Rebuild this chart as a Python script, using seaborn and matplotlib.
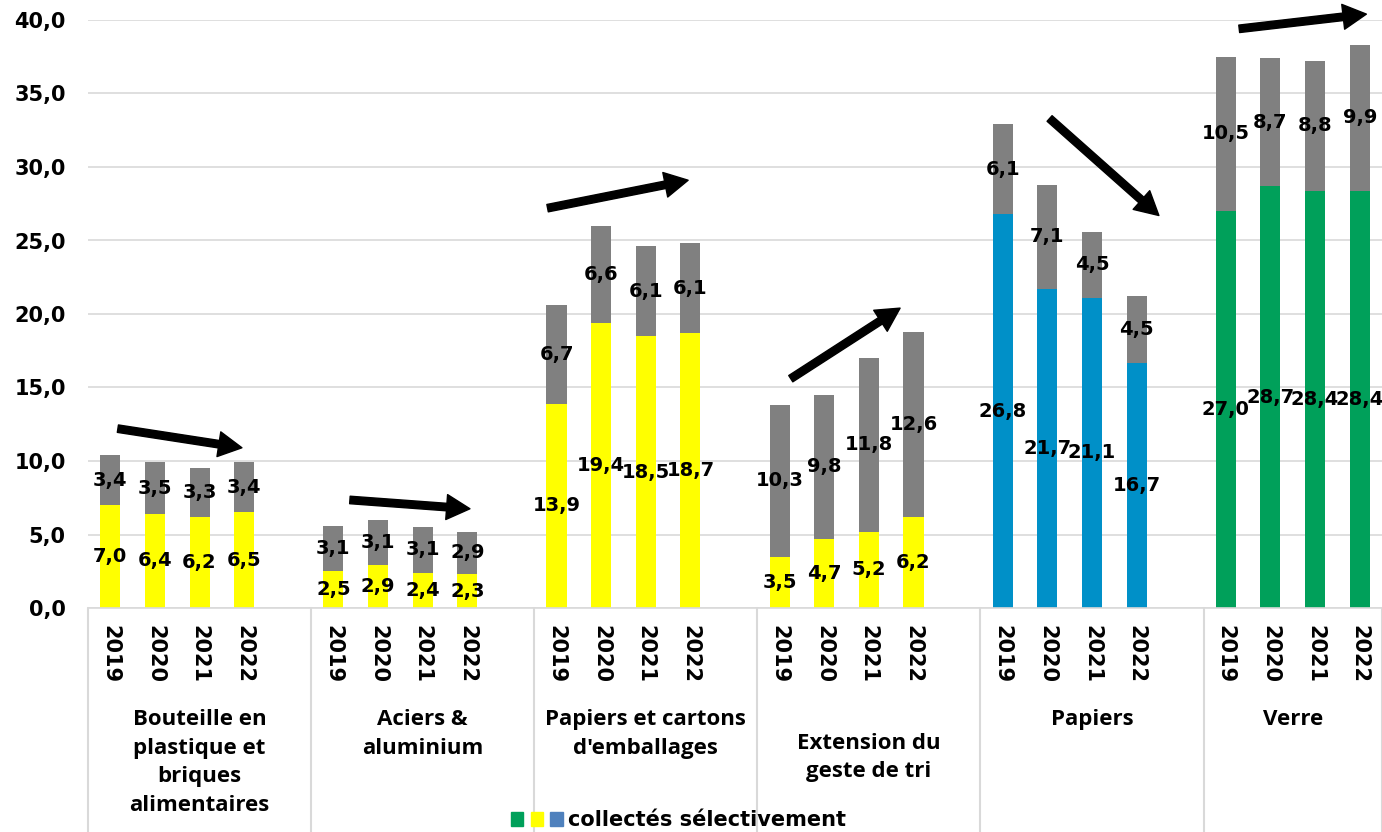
import pandas as pd
import matplotlib
matplotlib.use("Agg")
import matplotlib.pyplot as plt
import matplotlib.transforms as mtransforms
from matplotlib.patches import Patch
from matplotlib.legend_handler import HandlerTuple
import seaborn as sns

# donnees
groupes = ["Bouteille en\nplastique et\nbriques\nalimentaires", "Aciers &\naluminium",
           "Papiers et cartons\nd'emballages", "Extension du\ngeste de tri", "Papiers", "Verre"]
annees = ["2019", "2020", "2021", "2022"]
teintes = ["jaune", "jaune", "jaune", "jaune", "bleu", "vert"]

collecte_selective = [
    [7.0, 6.4, 6.2, 6.5],
    [2.5, 2.9, 2.4, 2.3],
    [13.9, 19.4, 18.5, 18.7],
    [3.5, 4.7, 5.2, 6.2],
    [26.8, 21.7, 21.1, 16.7],
    [27.0, 28.7, 28.4, 28.4],
]
autres = [
    [3.4, 3.5, 3.3, 3.4],
    [3.1, 3.1, 3.1, 2.9],
    [6.7, 6.6, 6.1, 6.1],
    [10.3, 9.8, 11.8, 12.6],
    [6.1, 7.1, 4.5, 4.5],
    [10.5, 8.7, 8.8, 9.9],
]

PALETTE = {"jaune": "#FFFF00", "bleu": "#0090C8", "vert": "#00A05A"}
GRIS = "#808080"
GRILLE = "#D9D9D9"
POLICE = ["DejaVu Sans"]

# fleches de tendance (debut -> pointe), en coordonnees des donnees
fleches = [((0.17, 12.2), (2.95, 10.9)),
           ((5.37, 7.35), (8.06, 6.75)),
           ((9.8, 27.2), (12.95, 29.1)),
           ((15.25, 15.6), (17.7, 20.4)),
           ((21.05, 33.3), (23.5, 26.7)),
           ((25.3, 39.4), (28.15, 40.4))]

# construction du tableau : 4 annees + une case vide par groupe (sauf le dernier)
ordre = []
lignes = []
for g, nom in enumerate(groupes):
    for a, an in enumerate(annees):
        cle = "{}|{}".format(g, an)
        ordre.append(cle)
        lignes.append({"slot": cle, "base": collecte_selective[g][a],
                       "autre": autres[g][a],
                       "total": collecte_selective[g][a] + autres[g][a],
                       "teinte": teintes[g]})
    if g < len(groupes) - 1:
        ordre.append("{}|".format(g))
df = pd.DataFrame(lignes)

sns.set_style("white")
plt.rcParams["font.family"] = POLICE
plt.rcParams["text.color"] = "black"
plt.rcParams["xtick.color"] = "black"
plt.rcParams["ytick.color"] = "black"

fig = plt.figure(figsize=(13.82, 8.32), dpi=100)
ax = fig.add_axes([88 / 1382, 224 / 832, 1294 / 1382, 588 / 832])

sns.barplot(data=df, x="slot", y="total", order=ordre, color=GRIS, width=0.45,
            saturation=1, errorbar=None, linewidth=0, ax=ax)
sns.barplot(data=df, x="slot", y="base", hue="teinte", palette=PALETTE, order=ordre,
            width=0.45, dodge=False, saturation=1, errorbar=None, legend=False,
            linewidth=0, ax=ax)

def fmt(v):
    return "{:.1f}".format(v).replace(".", ",")

for _, r in df.iterrows():
    x = ordre.index(r["slot"])
    ax.text(x, r["base"] / 2, fmt(r["base"]), ha="center", va="center",
            fontsize=14, fontweight="bold", family=POLICE, color="black")
    ax.text(x, r["base"] + r["autre"] / 2, fmt(r["autre"]), ha="center", va="center",
            fontsize=14, fontweight="bold", family=POLICE, color="black")

ax.set_ylim(0, 40)
ax.set_xlim(-0.5, len(ordre) - 0.5)
ax.set_yticks(range(0, 41, 5))
ax.set_yticklabels([fmt(v) for v in range(0, 41, 5)], fontsize=15, fontweight="bold",
                   family=POLICE)
ax.yaxis.grid(True, color=GRILLE, linewidth=1.2)
ax.set_axisbelow(True)
ax.set_xticks(range(len(ordre)))
ax.set_xticklabels([c.split("|")[1] for c in ordre], rotation=-90,
                   fontsize=15, fontweight="bold", family=POLICE)
ax.tick_params(axis="both", length=0)
ax.tick_params(axis="y", pad=16)
ax.tick_params(axis="x", pad=12)
ax.set_xlabel("")
ax.set_ylabel("")
for s in ["top", "right", "left"]:
    ax.spines[s].set_visible(False)
ax.spines["bottom"].set_color(GRILLE)
ax.spines["bottom"].set_linewidth(1.2)

# separateurs et noms des groupes sous l'axe
trans = mtransforms.blended_transform_factory(ax.transData, ax.transAxes)
bornes = [-0.5] + [5 * g + 4.5 for g in range(len(groupes) - 1)] + [len(ordre) - 0.5]
for b in bornes:
    ax.plot([b, b], [0, -0.381], transform=trans, color=GRILLE, linewidth=1.5,
            clip_on=False)
for g, nom in enumerate(groupes):
    centre = (bornes[g] + bornes[g + 1]) / 2
    y = -0.212 if g == 3 else -0.172
    ax.text(centre, y, nom, transform=trans, ha="center", va="top", fontsize=16,
            fontweight="bold", family="Open Sans", linespacing=1.48)

for debut, fin in fleches:
    ax.annotate("", xy=fin, xytext=debut, annotation_clip=False,
                arrowprops=dict(arrowstyle="simple,head_length=1.4,head_width=1.5,tail_width=0.45",
                                color="black", mutation_scale=12, shrinkA=0, shrinkB=0))

poignees = (Patch(color=PALETTE["vert"]), Patch(color=PALETTE["jaune"]), Patch(color="#4F81BD"))
fig.legend([poignees], ["collectés sélectivement"], loc="center",
           bbox_to_anchor=(0.491, 0.014), frameon=False, handlelength=2.5,
           handleheight=0.6, handletextpad=0.25,
           handler_map={tuple: HandlerTuple(ndivide=None, pad=0.35)},
           prop={"weight": "bold", "size": 15, "family": POLICE})

plt.savefig("out.png", dpi=100)
